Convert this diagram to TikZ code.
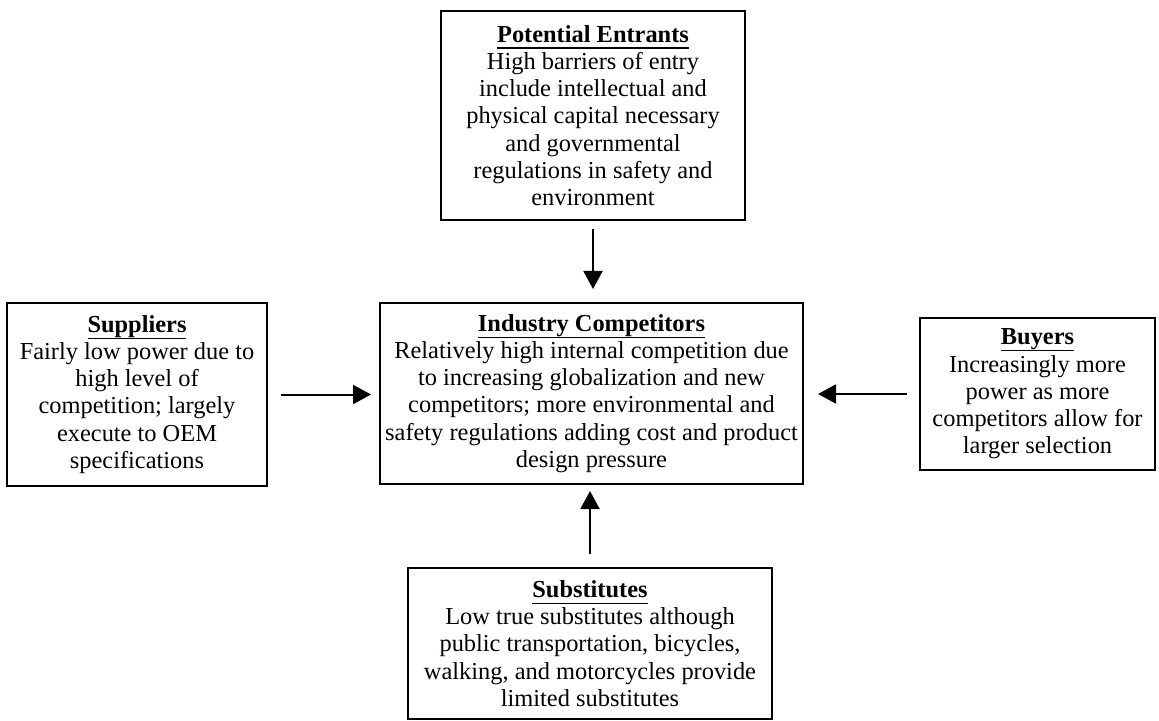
\documentclass[tikz,border=0pt]{standalone}
\usepackage{fontspec}
\setmainfont{Liberation Serif}
\usetikzlibrary{arrows.meta}
\tikzset{
  box/.style={draw=black, line width=1pt, align=center, inner sep=0pt,
    font=\fontsize{12.2}{13.6}\selectfont},
  arr/.style={draw=black, line width=1pt, -{Triangle[length=9pt,width=9.5pt]}}
}
\newcommand{\ttl}[1]{\setbox0\hbox{\textbf{#1}}\rlap{\rule[-3.2pt]{\wd0}{0.6pt}}\box0}
\begin{document}
\begin{tikzpicture}[x=0.5pt,y=-0.5pt]
\useasboundingbox (0,0) rectangle (1159,721);
\node[box, minimum width=152pt, minimum height=104.5pt] (PE) at (593,115.5)
  {\ttl{Potential Entrants}\\High barriers of entry\\include intellectual and\\physical capital necessary\\and governmental\\regulations in safety and\\environment};
\node[box, minimum width=211.5pt, minimum height=90.5pt] (IC) at (591.5,393.5)
  {\ttl{Industry Competitors}\\Relatively high internal competition due\\to increasing globalization and new\\competitors; more environmental and\\safety regulations adding cost and product\\design pressure};
\node[box, minimum width=130pt, minimum height=91.5pt] (SUP) at (137,394.5)
  {\ttl{Suppliers}\\Fairly low power due to\\high level of\\competition; largely\\execute to OEM\\specifications};
\node[box, minimum width=117.5pt, minimum height=76pt] (BUY) at (1037.5,394)
  {\ttl{Buyers}\\Increasingly more\\power as more\\competitors allow for\\larger selection};
\node[box, minimum width=182pt, minimum height=75.5pt] (SUB) at (590,643.5)
  {\ttl{Substitutes}\\Low true substitutes although\\public transportation, bicycles,\\walking, and motorcycles provide\\limited substitutes};
\draw[arr, shorten <=4pt, shorten >=6.5pt] (PE.south) -- (PE.south |- IC.north);
\draw[arr, shorten <=6.5pt, shorten >=4pt] (SUP.east) -- (SUP.east -| IC.west);
\draw[arr, shorten <=6pt, shorten >=7pt] (BUY.west) -- (BUY.west -| IC.east);
\draw[arr, shorten <=6.5pt, shorten >=3pt] (SUB.north) -- (SUB.north |- IC.south);
\end{tikzpicture}
\end{document}
